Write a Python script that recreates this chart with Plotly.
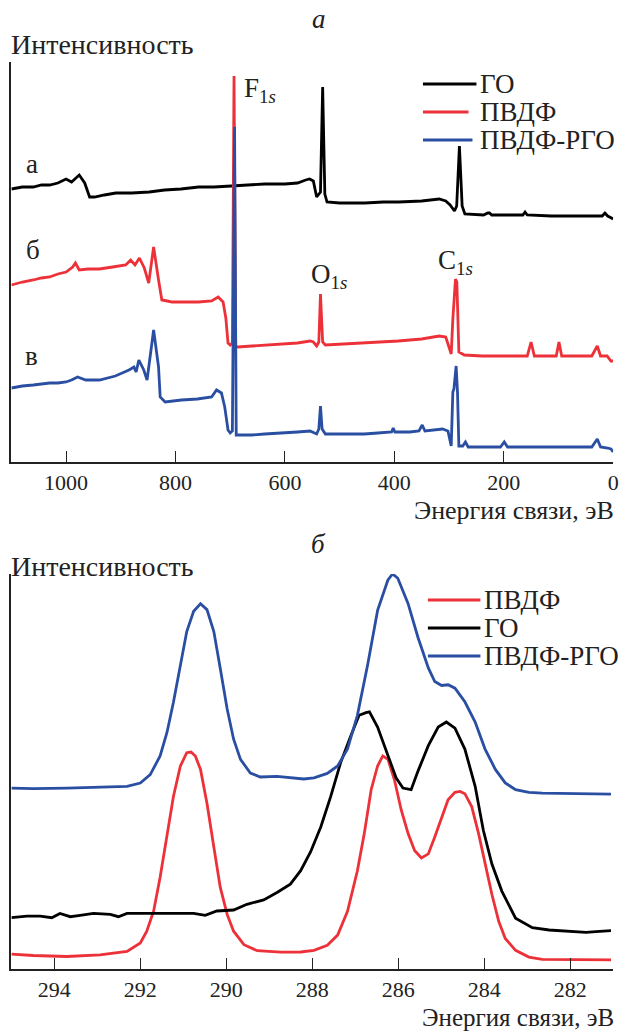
import plotly.graph_objects as go

W, H = 633, 1031

# ---------------- panel a: survey spectra (binding energy eV, intensity a.u.) ----------------
go_a_x = [1100, 1080, 1060, 1045, 1030, 1015, 1000, 990, 976, 966, 957, 948, 930, 909, 880, 848, 820, 790,
          758, 730, 698, 670, 637, 600, 577, 562, 555, 548, 542, 535, 531, 527, 523, 500, 454, 420, 392, 350,
          318, 306, 298, 290, 286, 281, 276, 271, 250, 237, 229, 226, 222, 200, 165, 161, 157, 113, 60, 20,
          15, 10, 3, 0]
go_a_y = [279, 281, 281, 283, 283, 285, 289, 286, 293, 285, 271, 271, 273, 275, 275, 276, 278, 279,
          281, 281, 282, 283, 284, 284, 285, 288, 289, 287, 271, 276, 381, 274, 266, 265, 265, 266, 266, 267,
          269, 267, 263, 257, 262, 322, 262, 254, 253, 253, 255, 255, 253, 253, 253, 256, 253, 252, 252, 252,
          255, 252, 250, 249]

pvdf_a_x = [1100, 1080, 1060, 1045, 1030, 1015, 1000, 988, 983, 976, 960, 939, 915, 891, 882, 874, 866, 857,
            849, 840, 831, 825, 815, 806, 780, 758, 734, 722, 713, 708, 704, 700, 696, 693, 690, 686, 660,
            637, 600, 577, 554, 548, 542, 538, 535, 531, 526, 490, 455, 420, 393, 350, 318, 306, 296, 293,
            291.3, 289.4, 288.2, 285.7, 283.2, 282, 272, 240, 157, 150, 144, 104, 99, 94, 39, 29, 23, 11, 4, 0]
pvdf_a_y = [183, 186, 188, 190, 191, 194, 196, 201, 205, 198, 199, 199, 201, 203, 208, 203, 210, 200,
            185, 221, 188, 168, 167, 166, 166, 166, 167, 171, 166, 150, 125, 123, 125, 392, 122, 121, 122,
            123, 124, 125, 127, 126, 122, 126, 174, 126, 123, 124, 125, 126, 127, 129, 132, 131, 114, 149,
            166, 176, 189, 186, 142, 116, 113, 112, 112, 126, 112, 112, 126, 112, 112, 122, 112, 112, 107, 107]

rgo_a_x = [1100, 1080, 1060, 1045, 1030, 1015, 1000, 990, 979, 964, 939, 910, 885, 876, 872, 867, 858, 852,
           840, 831, 828, 819, 789, 760, 746, 734, 725, 716, 710, 704, 700, 696, 692, 689, 682, 660, 637,
           600, 577, 554, 542, 538, 535, 532, 526, 490, 455, 430, 405, 402, 399, 372, 355, 349, 344, 312,
           302, 296, 293, 291, 289, 287, 284.5, 282, 275, 270, 265, 235, 206, 199, 193, 150, 113, 60, 39,
           29, 23, 10, 4, 0]
rgo_a_y = [80, 82, 83, 84, 85, 85, 86, 88, 91, 88, 88, 92, 98, 101, 96, 108, 98, 88,
           138, 101, 71, 66, 68, 69, 70, 71, 78, 75, 61, 38, 35, 37, 341, 33, 33, 33, 34,
           35, 36, 37, 34, 39, 62, 39, 34, 34, 34, 35, 36, 40, 36, 36, 37, 43, 37, 39,
           37, 22, 76, 79, 89, 102, 76, 22, 22, 26, 21, 21, 21, 26, 21, 21, 21, 21, 21,
           29, 21, 20, 19, 16]

# ---------------- panel b: C1s high-resolution spectra ----------------
pvdf_b_x = [295.0, 294.49, 293.71, 292.94, 292.31, 292.0, 291.85, 291.69, 291.54, 291.38, 291.23, 291.07,
            290.92, 290.82, 290.72, 290.6, 290.45, 290.29, 290.14, 289.98, 289.83, 289.59, 289.28, 288.74,
            288.27, 287.96, 287.65, 287.41, 287.18, 286.95, 286.79, 286.63, 286.48, 286.36, 286.24, 286.09,
            285.93, 285.77, 285.62, 285.46, 285.3, 285.15, 284.99, 284.84, 284.68, 284.56, 284.45, 284.29,
            284.13, 283.98, 283.82, 283.66, 283.51, 283.27, 282.96, 282.65, 282.02, 281.05]
pvdf_b_y = [20.9, 19.5, 18.5, 20.2, 23.6, 32.0, 43.8, 64.0, 97.7, 138.1, 178.5, 208.8,
            222.3, 223.0, 218.9, 205.5, 171.8, 128.0, 87.6, 60.6, 43.8, 30.3, 24.3, 22.9,
            23.0, 24.7, 29.8, 39.9, 63.6, 104.2, 141.4, 185.3, 209.0, 219.1, 215.8, 195.5,
            165.0, 141.4, 124.5, 117.0, 121.1, 138.0, 158.3, 175.2, 182.6, 183.6, 181.3, 168.4,
            141.4, 110.9, 80.5, 53.4, 36.5, 24.7, 17.9, 15.6, 15.2, 15.2]

go_b_x = [295.0, 294.64, 294.33, 294.06, 293.87, 293.63, 293.4, 293.09, 292.7, 292.51, 292.31, 291.77,
          291.23, 290.76, 290.49, 290.22, 289.83, 289.52, 289.13, 288.82, 288.51, 288.27, 288.04, 287.8,
          287.57, 287.34, 287.1, 286.91, 286.75, 286.67, 286.48, 286.24, 286.05, 285.89, 285.7, 285.54,
          285.3, 285.07, 284.88, 284.68, 284.45, 284.21, 284.02, 283.82, 283.59, 283.27, 282.88, 282.49,
          282.02, 281.63, 281.4, 281.05]
go_b_y = [57.3, 58.9, 58.9, 57.3, 61.6, 58.3, 59.6, 61.6, 60.6, 58.3, 61.6, 61.6,
          61.6, 61.6, 59.6, 64.0, 65.0, 70.7, 75.1, 82.5, 90.9, 104.3, 123.0, 148.2,
          178.6, 212.4, 239.4, 259.7, 262.4, 263.1, 247.9, 219.1, 197.2, 187.0, 185.3, 203.9,
          229.3, 247.9, 253.0, 246.9, 225.9, 188.7, 144.7, 110.9, 83.9, 56.8, 47.3, 45.0,
          44.0, 42.6, 43.3, 44.3]

rgo_b_x = [295.0, 294.49, 293.71, 292.94, 292.31, 292.0, 291.77, 291.54, 291.38, 291.23, 291.07, 290.92,
           290.76, 290.6, 290.45, 290.29, 290.14, 289.98, 289.83, 289.67, 289.44, 289.21, 288.82, 288.43,
           288.2, 287.96, 287.65, 287.41, 287.18, 286.95, 286.71, 286.48, 286.24, 286.13, 286.01, 285.77,
           285.54, 285.3, 285.15, 284.99, 284.84, 284.68, 284.45, 284.21, 283.98, 283.74, 283.51, 283.27,
           282.96, 282.65, 282.02, 281.48, 281.05]
rgo_b_y = [186.9, 186.3, 186.9, 187.6, 188.6, 192.0, 200.4, 219.0, 242.5, 272.8, 309.9, 343.5,
           363.8, 371.2, 365.4, 343.5, 306.5, 266.0, 235.8, 215.6, 202.0, 198.0, 198.7, 197.0,
           196.0, 197.2, 201.6, 209.0, 226.0, 259.7, 310.5, 364.6, 395.0, 401.1, 396.7, 371.3,
           337.5, 307.1, 293.5, 289.5, 290.2, 286.8, 273.2, 253.0, 225.9, 205.6, 192.1, 185.3,
           182.6, 181.9, 181.3, 180.9, 180.9]

names = ["ГО", "ПВДФ", "ПВДФ-РГО"]
top_ticks = [1000, 800, 600, 400, 200, 0]
bot_ticks = [294, 292, 290, 288, 286, 284, 282]

BLACK, RED, BLUE = "#000000", "#ec3139", "#2a4fa2"
FONT = "Liberation Serif"
LW = 2.8

fig = go.Figure()
fig.add_trace(go.Scatter(x=go_a_x, y=go_a_y, mode="lines", name=names[0], line=dict(color=BLACK, width=LW),
                         xaxis="x", yaxis="y", showlegend=False, cliponaxis=False))
fig.add_trace(go.Scatter(x=pvdf_a_x, y=pvdf_a_y, mode="lines", name=names[1], line=dict(color=RED, width=LW),
                         xaxis="x", yaxis="y", showlegend=False, cliponaxis=False))
fig.add_trace(go.Scatter(x=rgo_a_x, y=rgo_a_y, mode="lines", name=names[2], line=dict(color=BLUE, width=LW),
                         xaxis="x", yaxis="y", showlegend=False, cliponaxis=False))
fig.add_trace(go.Scatter(x=pvdf_b_x, y=pvdf_b_y, mode="lines", name=names[1], line=dict(color=RED, width=LW),
                         xaxis="x2", yaxis="y2", showlegend=False, cliponaxis=False))
fig.add_trace(go.Scatter(x=go_b_x, y=go_b_y, mode="lines", name=names[0], line=dict(color=BLACK, width=LW),
                         xaxis="x2", yaxis="y2", showlegend=False, cliponaxis=False))
fig.add_trace(go.Scatter(x=rgo_b_x, y=rgo_b_y, mode="lines", name=names[2], line=dict(color=BLUE, width=LW),
                         xaxis="x2", yaxis="y2", showlegend=False, cliponaxis=False))


def px(x):
    return x / W


def py(y):
    return 1 - y / H


axis_common = dict(showline=True, linecolor="#222", linewidth=1.6, showgrid=False, zeroline=False,
                   ticks="inside", ticklen=11, tickwidth=1.4, tickcolor="#222",
                   tickfont=dict(family=FONT, size=22, color="#222"))
yaxis_common = dict(showline=True, linecolor="#222", linewidth=1.6, showgrid=False, zeroline=False,
                    showticklabels=False, ticks="")

fig.update_layout(
    width=W, height=H, margin=dict(l=0, r=0, t=0, b=0),
    paper_bgcolor="white", plot_bgcolor="white", showlegend=False,
    xaxis=dict(domain=[px(11.5), px(619)], range=[1100, 0], tickvals=top_ticks, anchor="y", **axis_common),
    yaxis=dict(domain=[py(462), py(62)], range=[6, 406], anchor="x", **yaxis_common),
    xaxis2=dict(domain=[px(11.5), px(619)], range=[295, 281], tickvals=bot_ticks, anchor="y2", **axis_common),
    yaxis2=dict(domain=[py(969), py(574)], range=[6, 401], anchor="x2", **yaxis_common),
)

ann = []


def text(x, y, s, size=26, xanchor="left", yanchor="middle"):
    ann.append(dict(x=px(x), y=py(y), xref="paper", yref="paper", text=s, showarrow=False,
                    xanchor=xanchor, yanchor=yanchor, font=dict(family=FONT, size=size, color="#222")))


# panel titles / axis labels
text(322, 19, "<i>а</i>", 27, "center")
text(9, 44, "Интенсивность", 28)
text(622, 510, "Энергия связи, эВ", 26, "right")
text(322, 544, "<i>б</i>", 27, "center")
text(9, 566, "Интенсивность", 28)
text(622, 1017, "Энергия связи, эВ", 25, "right")
# curve labels
text(32, 164, "а", 27, "center")
text(33, 250, "б", 27, "center")
text(32, 356, "в", 27, "center")
text(244, 90, "F<sub>1<i>s</i></sub>", 27)
text(312, 276, "O<sub>1<i>s</i></sub>", 27)
text(440, 262, "C<sub>1<i>s</i></sub>", 27)

shapes = []


def legend_item(x0, x1, y, color, label, tx):
    shapes.append(dict(type="line", xref="paper", yref="paper", x0=px(x0), x1=px(x1), y0=py(y), y1=py(y),
                       line=dict(color=color, width=3)))
    text(tx, y, label, 27)


legend_item(427, 481, 84, BLACK, names[0], 483)
legend_item(427, 473, 112, RED, names[1], 483)
legend_item(427, 477, 140, BLUE, names[2], 483)
legend_item(432, 485, 600, RED, names[1], 487)
legend_item(432, 485, 628, BLACK, names[0], 487)
legend_item(432, 485, 656, BLUE, names[2], 487)

fig.update_layout(annotations=ann, shapes=shapes)
fig.write_html("out.html", config={"displayModeBar": False},
               post_script="document.body.style.margin='0px';document.body.style.padding='0px';")
